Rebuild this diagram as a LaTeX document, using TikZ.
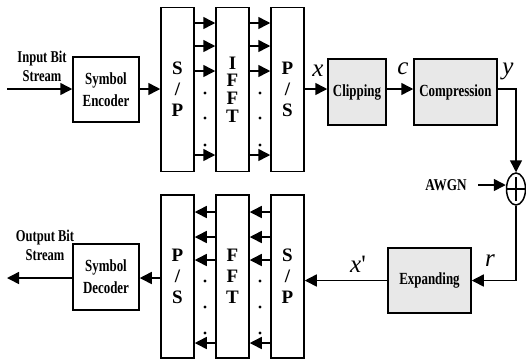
\documentclass[tikz,border=0pt]{standalone}
\usepackage{fontspec}
\usepackage{graphicx}
\setmainfont{Liberation Serif}
\usetikzlibrary{arrows.meta,shapes.geometric}
\newcommand{\sqz}[1]{\scalebox{0.76}[1]{#1}}
\begin{document}
\begin{tikzpicture}[x=1pt,y=-1pt,
  arr/.style={line width=1.5pt,-{Triangle[length=12pt,width=12pt]}},
  ln/.style={line width=1.5pt},
  blk/.style={draw,line width=1.5pt,inner sep=0pt,align=center,
    font=\fontsize{17}{22}\selectfont\bfseries},
  gblk/.style={blk,fill=black!9},
  para/.style={blk,minimum width=33pt,minimum height=164pt,
    font=\fontsize{19}{21}\selectfont\bfseries},
  txt/.style={inner sep=0pt,align=center,font=\fontsize{16.5}{19}\selectfont\bfseries},
  mth/.style={inner sep=0pt,font=\fontsize{25}{25}\selectfont\itshape},
  dotc/.style={fill=black,circle,inner sep=0pt,minimum size=3.4pt}
]
\useasboundingbox (0,0) rectangle (526,360);

% top row
\node[blk,minimum width=66pt,minimum height=65pt] (enc) at (106,89.5) {\sqz{Symbol}\\\sqz{Encoder}};
\node[para] (sp1) at (177.5,89.5) {S\\/\\P};
\node[para,font=\fontsize{19}{17.7}\selectfont\bfseries] (ifft) at (232.5,89.5) {I\\F\\F\\T};
\node[para] (ps1) at (287.5,89.5) {P\\/\\S};
\node[gblk,minimum width=58pt,minimum height=66pt] (clip) at (357,92) {\sqz{Clipping}};
\node[gblk,minimum width=83pt,minimum height=66pt] (comp) at (455.5,92) {\sqz{Compression}};
\node[draw,ellipse,line width=1.5pt,minimum width=19pt,minimum height=32pt,inner sep=0pt] (add) at (516,189) {};
\draw[ln] ([yshift=-12pt]add.center) -- ([yshift=12pt]add.center);
\draw[ln] (add.west) -- (add.east);

% bottom row
\node[gblk,minimum width=83pt,minimum height=65pt] (exp) at (429.5,280.5) {\sqz{Expanding}};
\node[para,minimum height=163pt] (sp2) at (287.5,276.5) {S\\/\\P};
\node[para,minimum height=163pt] (fft) at (232.5,276.5) {F\\F\\T};
\node[para,minimum height=163pt] (ps2) at (177.5,276.5) {P\\/\\S};
\node[blk,minimum width=66pt,minimum height=66pt] (dec) at (106,277) {\sqz{Symbol}\\\sqz{Decoder}};

% labels
\node[txt] (inl) at (42,66) {\sqz{Input Bit}\\\sqz{Stream}};
\node[txt] (outl) at (45,245) {\sqz{Output Bit}\\\sqz{Stream}};
\node[txt] (awgn) at (446,185) {\scalebox{0.8}[1]{AWGN}};
\node[mth] (lx) at (318,71) {x};
\node[mth] (lc) at (403,69) {c};
\node[mth] (ly) at (508,71) {y};
\node[mth] (lr) at (490,261) {r};
\node[mth] (lxp) at (358,264) {x\textup{\textquotesingle}};

% connectors top
\coordinate (in) at (7,89);
\draw[arr] (in) -- (enc.west |- in);
\draw[arr] (enc.east |- in) -- (sp1.west |- in);
\foreach \yy in {23,46,71,155} {
  \draw[arr] (sp1.east |- 0,\yy) -- (ifft.west |- 0,\yy);
  \draw[arr] (ifft.east |- 0,\yy) -- (ps1.west |- 0,\yy);
}
\foreach \yy in {93,118,145} {
  \node[dotc] at (205,\yy) {};
  \node[dotc] at (260,\yy) {};
}
\draw[arr] (ps1.east |- in) -- (clip.west |- in);
\draw[arr] (clip.east |- in) -- (comp.west |- in);
\draw[arr] (comp.east |- in) -| (add.north);
\coordinate (awe) at (478,185);
\draw[arr] (awe) -- (add.west |- awe);

% connectors bottom
\draw[arr] (add.south) |- (exp.east);
\draw[arr] (exp.west) -- (sp2.east |- exp.west);
\foreach \yy in {212,237,260,343} {
  \draw[arr] (sp2.west |- 0,\yy) -- (fft.east |- 0,\yy);
  \draw[arr] (fft.west |- 0,\yy) -- (ps2.east |- 0,\yy);
}
\foreach \yy in {281,307,333} {
  \node[dotc] at (205,\yy) {};
  \node[dotc] at (260,\yy) {};
}
\coordinate (out) at (7,278);
\draw[arr] (ps2.west |- out) -- (dec.east |- out);
\draw[arr] (dec.west |- out) -- (out);
\end{tikzpicture}
\end{document}
